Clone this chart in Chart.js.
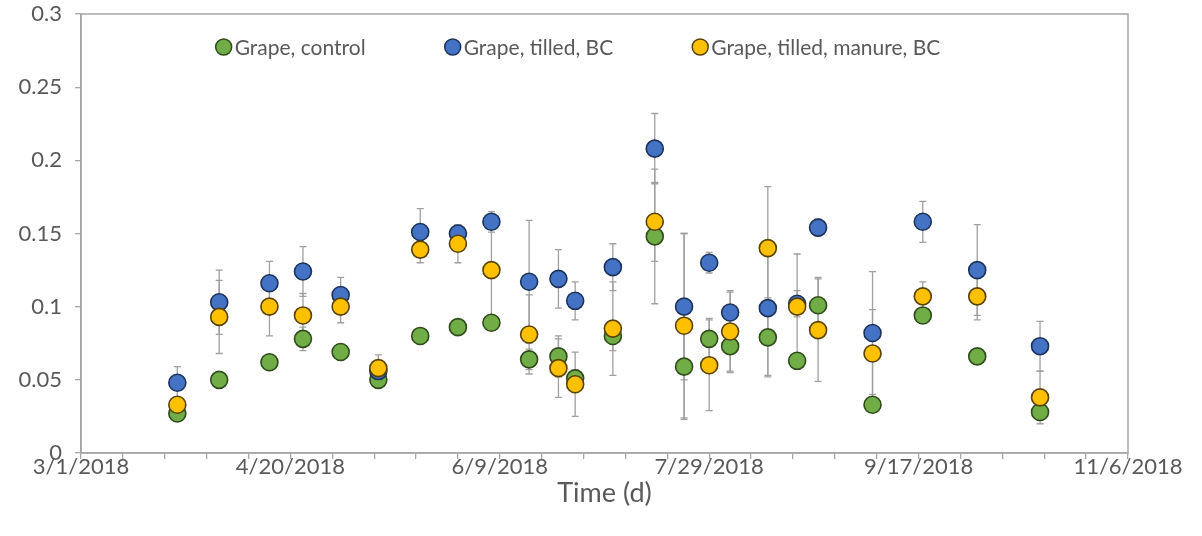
<!DOCTYPE html>
<html><head><meta charset="utf-8">
<script src="https://cdn.jsdelivr.net/npm/chart.js@4.4.1/dist/chart.umd.min.js"></script>
<style>html,body{margin:0;padding:0;background:#fff}#wrap{width:1202px;height:536px;position:relative}</style>
</head><body><div id="wrap"><canvas id="c"></canvas></div>
<script>
// ---- data ----
const sampleDates = ['2018-03-24','2018-04-03','2018-04-15','2018-04-23','2018-05-02','2018-05-11','2018-05-21','2018-05-30','2018-06-07','2018-06-16','2018-06-23','2018-06-27','2018-07-06','2018-07-16','2018-07-23','2018-07-29','2018-08-03','2018-08-12','2018-08-19','2018-08-24','2018-09-06','2018-09-18','2018-10-01','2018-10-16'];
const seriesNames = ['Grape, control','Grape, tilled, BC','Grape, tilled, manure, BC'];
const controlValues = [0.027,0.050,0.062,0.078,0.069,0.050,0.080,0.086,0.089,0.064,0.066,0.051,0.080,0.148,0.059,0.078,0.073,0.079,0.063,0.101,0.033,0.094,0.066,0.028];
const controlErrors = [0.003,0.005,0.005,0.008,0.005,0.004,0.005,0.004,0.005,0.007,0.014,0.006,0.010,0.046,0.036,0.014,0.018,0.027,0.005,0.019,0.005,0.004,0.004,0.004];
const tilledValues  = [0.048,0.103,0.116,0.124,0.108,0.056,0.151,0.150,0.158,0.117,0.119,0.104,0.127,0.208,0.100,0.130,0.096,0.099,0.102,0.154,0.082,0.158,0.125,0.073];
const tilledErrors  = [0.011,0.022,0.015,0.017,0.012,0.004,0.016,0.006,0.007,0.042,0.020,0.013,0.016,0.024,0.050,0.007,0.015,0.046,0.009,0.006,0.042,0.014,0.031,0.017];
const manureValues  = [0.033,0.093,0.100,0.094,0.100,0.058,0.139,0.143,0.125,0.081,0.058,0.047,0.085,0.158,0.087,0.060,0.083,0.140,0.100,0.084,0.068,0.107,0.107,0.038];
const manureErrors  = [0.004,0.025,0.020,0.015,0.011,0.009,0.009,0.013,0.035,0.027,0.020,0.022,0.032,0.027,0.063,0.031,0.027,0.042,0.036,0.035,0.030,0.010,0.016,0.018];
const xAxisStart = '2018-03-01';
const xAxisEnd = '2018-11-06';
const xLabelEveryDays = 50;
const xTickEveryDays = 10;
const yTickValues = [0,0.05,0.1,0.15,0.2,0.25,0.3];
const xTitle = 'Time (d)';

// ---- helpers ----
const DAY = 86400000;
const origin = Date.parse(xAxisStart + 'T00:00:00Z');
const toDay = s => Math.round((Date.parse(s + 'T00:00:00Z') - origin) / DAY);
const fmtDate = d => { const t = new Date(origin + d * DAY); return (t.getUTCMonth()+1) + '/' + t.getUTCDate() + '/' + t.getUTCFullYear(); };
const pts = vals => vals.map((v,i) => ({x: toDay(sampleDates[i]), y: v}));
const errorSets = [controlErrors, tilledErrors, manureErrors];

const FONT = 'Lato, "Open Sans", sans-serif';
const TEXT = '#595959';
const AXIS = '#a6a6a6';

const errorBarPlugin = {
  id: 'errorBars',
  beforeDatasetsDraw(chart) {
    const ctx = chart.ctx, xs = chart.scales.x, ys = chart.scales.y;
    ctx.save();
    ctx.strokeStyle = '#a0a0a0';
    ctx.lineWidth = 1.3;
    chart.data.datasets.forEach((ds, di) => {
      ds.data.forEach((p, i) => {
        const e = errorSets[di][i];
        const x = xs.getPixelForValue(p.x);
        const y1 = ys.getPixelForValue(p.y + e), y2 = ys.getPixelForValue(p.y - e);
        ctx.beginPath();
        ctx.moveTo(x, y1); ctx.lineTo(x, y2);
        ctx.moveTo(x - 3.5, y1); ctx.lineTo(x + 3.5, y1);
        ctx.moveTo(x - 3.5, y2); ctx.lineTo(x + 3.5, y2);
        ctx.stroke();
      });
    });
    ctx.restore();
  }
};

const framePlugin = {
  id: 'frame',
  afterDraw(chart) {
    const {ctx, chartArea: a} = chart;
    ctx.save();
    ctx.strokeStyle = AXIS; ctx.lineWidth = 1.5;
    ctx.strokeRect(a.left, a.top, a.right - a.left, a.bottom - a.top);
    ctx.restore();
  }
};

const insideLegend = {
  id: 'insideLegend',
  afterDraw(chart) {
    const ctx = chart.ctx;
    ctx.save();
    ctx.font = '21px ' + FONT;
    const r = 8, tg = 3, gap = 79;
    const items = chart.data.datasets.map(ds => ({ds, w: ctx.measureText(ds.label).width}));
    const total = items.reduce((s, it) => s + 2*r + tg + it.w, 0) + gap * (items.length - 1);
    let x = 578 - total / 2;
    const y = chart.chartArea.top + 33;
    items.forEach(it => {
      ctx.beginPath();
      ctx.arc(x + r, y, r, 0, Math.PI * 2);
      ctx.fillStyle = it.ds.backgroundColor; ctx.fill();
      ctx.lineWidth = 1.5; ctx.strokeStyle = it.ds.borderColor; ctx.stroke();
      ctx.fillStyle = TEXT; ctx.textBaseline = 'middle'; ctx.textAlign = 'left';
      ctx.fillText(it.ds.label, x + 2*r + tg, y + 1);
      x += 2*r + tg + it.w + gap;
    });
    ctx.restore();
  }
};

const mk = (label, vals, fill, border, order) => ({
  label, data: pts(vals), backgroundColor: fill, borderColor: border,
  pointRadius: 8.5, pointHoverRadius: 8.5, borderWidth: 1.6, order, showLine: false
});

new Chart(document.getElementById('c'), {
  type: 'scatter',
  data: { datasets: [
    mk(seriesNames[0], controlValues, '#70AD47', '#2f4a1b', 2),
    mk(seriesNames[1], tilledValues,  '#4472C4', '#1c3259', 1),
    mk(seriesNames[2], manureValues,  '#FFC000', '#574200', 0)
  ]},
  options: {
    responsive: true, maintainAspectRatio: false, animation: false,
    layout: { padding: { left: 0, right: 74, top: 14, bottom: 0 } },
    plugins: { legend: { display: false }, tooltip: { enabled: false } },
    scales: {
      x: {
        type: 'linear', min: 0, max: toDay(xAxisEnd),
        afterFit(s) { s.height = 83; s.paddingLeft = 0; s.paddingRight = 0; },
        afterBuildTicks(s) { const t = []; for (let v = 0; v <= toDay(xAxisEnd); v += xTickEveryDays) t.push({value: v}); s.ticks = t; },
        ticks: { autoSkip: false, maxRotation: 0, padding: -5, color: TEXT, font: { family: FONT, size: 22 },
          callback: v => (v % xLabelEveryDays === 0 ? fmtDate(v) : '') },
        grid: { drawOnChartArea: false, drawTicks: true, tickLength: 6, color: AXIS, lineWidth: 1.3 },
        border: { display: true, color: AXIS, width: 1.5 },
        title: { display: true, text: xTitle, color: TEXT, font: { family: FONT, size: 27 }, padding: { top: 0, bottom: 27 } }
      },
      y: {
        min: 0, max: 0.3,
        afterFit(s) { s.width = 81; s.paddingTop = 0; s.paddingBottom = 0; },
        afterBuildTicks(s) { s.ticks = yTickValues.map(v => ({value: v})); },
        ticks: { padding: 13, color: TEXT, font: { family: FONT, size: 22 },
          callback: v => String(+(+v).toFixed(2)) },
        grid: { drawOnChartArea: false, drawTicks: true, tickLength: 6, color: AXIS, lineWidth: 1.3 },
        border: { display: true, color: AXIS, width: 1.5 }
      }
    }
  },
  plugins: [errorBarPlugin, framePlugin, insideLegend]
});
</script>
</body></html>
